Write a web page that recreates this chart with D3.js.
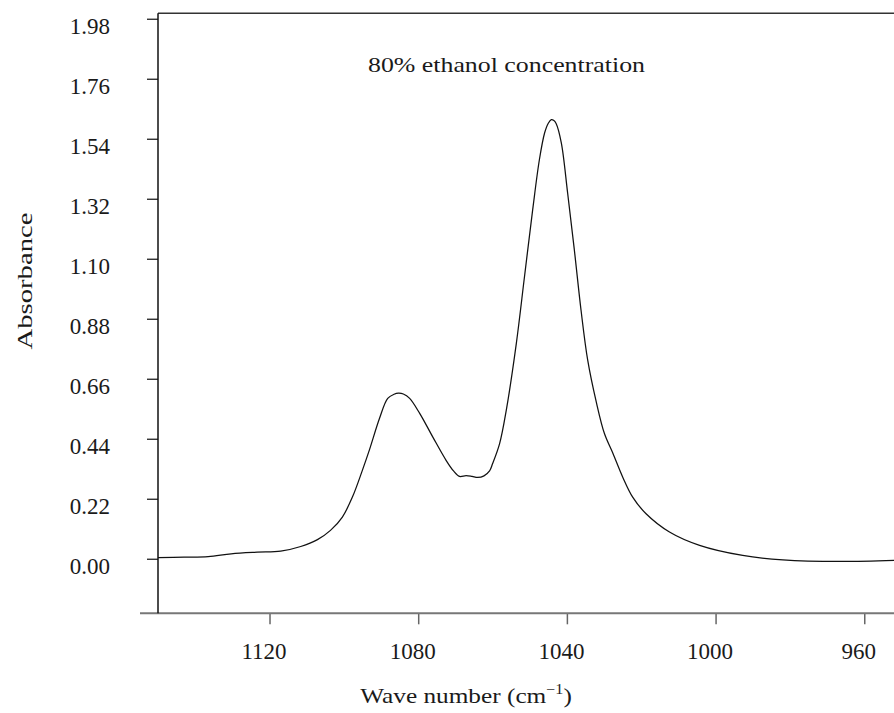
<!DOCTYPE html>
<html>
<head>
<meta charset="utf-8">
<script src="https://cdn.jsdelivr.net/npm/d3@7"></script>
<style>
  html, body { margin: 0; padding: 0; background: #fff; }
  svg { display: block; }
  text { font-family: "Liberation Serif", "Times New Roman", serif; fill: #1a1a1a; }
</style>
</head>
<body>
<svg id="chart" width="894" height="713"></svg>
<script>
// Wave number (cm^-1) and absorbance
const waveNumbers = [1150, 1143, 1136.5, 1130.3, 1123.3, 1117, 1111.6, 1107.1, 1103.6, 1100.4,
  1097.7, 1095, 1093.1, 1090.4, 1088.2, 1086.5, 1085.3, 1084, 1082.3, 1079.6,
  1076.1, 1072.5, 1070.5, 1068.9, 1067.1, 1065.5, 1064, 1062.3, 1060.8, 1060,
  1058.1, 1056.3, 1053.6, 1051.4, 1049.2, 1047.4, 1046, 1045, 1044.2, 1043.5,
  1042.9, 1041.5, 1039.8, 1038, 1036.2, 1034.4, 1032.1, 1029.9, 1027.6, 1025,
  1022.3, 1018.7, 1012.4, 1004.3, 992.7, 981.9, 966.6, 952];
const absorbance = [0.004, 0.006, 0.008, 0.018, 0.024, 0.028, 0.045, 0.070, 0.104, 0.153,
  0.226, 0.325, 0.400, 0.515, 0.588, 0.603, 0.607, 0.604, 0.588, 0.533,
  0.447, 0.361, 0.322, 0.302, 0.305, 0.302, 0.298, 0.304, 0.322, 0.348,
  0.422, 0.545, 0.790, 1.035, 1.280, 1.463, 1.561, 1.597, 1.610, 1.607,
  1.596, 1.525, 1.341, 1.133, 0.912, 0.728, 0.575, 0.459, 0.386, 0.300,
  0.226, 0.165, 0.098, 0.049, 0.012, -0.004, -0.010, -0.006];
const xTicks = [1120, 1080, 1040, 1000, 960];
const yTicks = [0.00, 0.22, 0.44, 0.66, 0.88, 1.10, 1.32, 1.54, 1.76, 1.98];
const titleText = "80% ethanol concentration";
const yLabel = "Absorbance";

const svg = d3.select("#chart");
const mLeft = 158, mRight = 894, mTop = 13.3, mBottom = 613.3;

const x = d3.scaleLinear().domain([1150, 952]).range([mLeft, mRight]);
const y = d3.scaleLinear().domain([-0.2, 2.0]).range([mBottom, mTop]);

// top border
svg.append("line").attr("x1", mLeft).attr("x2", mRight).attr("y1", mTop).attr("y2", mTop)
  .attr("stroke", "#333").attr("stroke-width", 1.5);

// X axis
const xAxis = svg.append("g").attr("transform", `translate(0,${mBottom})`)
  .call(d3.axisBottom(x).tickValues(xTicks).tickSize(11).tickSizeOuter(0).tickFormat(d3.format("d")));
xAxis.select(".domain").remove();
xAxis.append("line").attr("x1", 140).attr("x2", mRight).attr("y1", 0).attr("y2", 0)
  .attr("stroke", "#777").attr("stroke-width", 2);
xAxis.selectAll(".tick line").attr("stroke", "#666").attr("stroke-width", 1.5);
xAxis.selectAll(".tick text").attr("font-size", 23).attr("y", 46).attr("dy", 0).attr("dx", -6)
  .attr("fill", "#1a1a1a").style("font-family", '"Liberation Serif", serif');

// Y axis
const yAxis = svg.append("g").attr("transform", `translate(${mLeft},0)`)
  .call(d3.axisLeft(y).tickValues(yTicks).tickSize(11).tickSizeOuter(0).tickFormat(d3.format(".2f")));
yAxis.select(".domain").remove();
yAxis.append("line").attr("x1", 0).attr("x2", 0).attr("y1", mTop).attr("y2", mBottom)
  .attr("stroke", "#111").attr("stroke-width", 1.5);
yAxis.selectAll(".tick line").attr("stroke", "#222").attr("stroke-width", 1.3);
yAxis.selectAll(".tick text").attr("font-size", 23).attr("x", -48).attr("dy", 14.3)
  .attr("fill", "#1a1a1a").style("font-family", '"Liberation Serif", serif');

// curve
const pts = waveNumbers.map((w, i) => [w, absorbance[i]]);
svg.append("path").datum(pts)
  .attr("fill", "none").attr("stroke", "#111").attr("stroke-width", 1.25)
  .attr("d", d3.line().x(d => x(d[0])).y(d => y(d[1])).curve(d3.curveCatmullRom.alpha(0.5)));

// title
svg.append("text").attr("x", 368).attr("y", 72).attr("font-size", 22)
  .attr("textLength", 277).attr("lengthAdjust", "spacingAndGlyphs").text(titleText);

// x label
const xl = svg.append("text").attr("transform", "translate(466,703) scale(1.15,1)")
  .attr("font-size", 22).attr("text-anchor", "middle");
xl.append("tspan").text("Wave number (cm");
xl.append("tspan").attr("font-size", 14).attr("dy", -9).text("\u22121");
xl.append("tspan").attr("dy", 9).text(")");

// y label
svg.append("text").attr("transform", "translate(32,281) rotate(-90)")
  .attr("text-anchor", "middle").attr("font-size", 22)
  .attr("textLength", 137).attr("lengthAdjust", "spacingAndGlyphs").text(yLabel);
</script>
</body>
</html>
